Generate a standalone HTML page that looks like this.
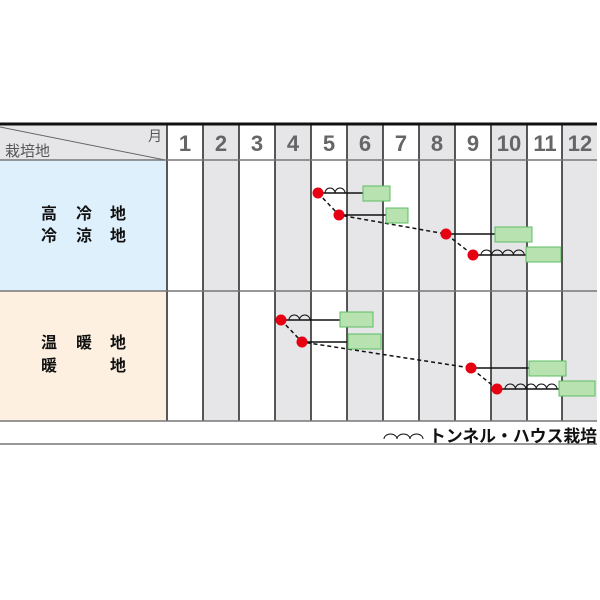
<!DOCTYPE html>
<html><head><meta charset="utf-8"><style>
body{margin:0;background:#fff;}
svg{display:block;font-family:"Liberation Sans","Noto Sans CJK JP",sans-serif;}
</style></head><body>
<svg width="600" height="600" viewBox="0 0 600 600">
<rect x="0" y="124" width="167" height="36" fill="#e6e6e8"/>
<rect x="0" y="160" width="167" height="131" fill="#def0fb"/>
<rect x="0" y="291" width="167" height="130" fill="#fdf0e0"/>
<g fill="#e6e6e8">
<rect x="203" y="124" width="36" height="297"/>
<rect x="275" y="124" width="36" height="297"/>
<rect x="347" y="124" width="36" height="297"/>
<rect x="419" y="124" width="36" height="297"/>
<rect x="491" y="124" width="36" height="297"/>
<rect x="562" y="124" width="35" height="297"/>
</g>
<line x1="0" y1="127" x2="165" y2="160" stroke="#666" stroke-width="1"/>
<g stroke="#222" stroke-width="1.5">
<line x1="167" y1="124" x2="167" y2="421"/>
<line x1="203" y1="124" x2="203" y2="421"/>
<line x1="239" y1="124" x2="239" y2="421"/>
<line x1="275" y1="124" x2="275" y2="421"/>
<line x1="311" y1="124" x2="311" y2="421"/>
<line x1="347" y1="124" x2="347" y2="421"/>
<line x1="383" y1="124" x2="383" y2="421"/>
<line x1="419" y1="124" x2="419" y2="421"/>
<line x1="455" y1="124" x2="455" y2="421"/>
<line x1="491" y1="124" x2="491" y2="421"/>
<line x1="527" y1="124" x2="527" y2="421"/>
<line x1="562" y1="124" x2="562" y2="421"/>
</g>
<g stroke="#777" stroke-width="1.5">
<line x1="0" y1="160" x2="597" y2="160"/>
<line x1="0" y1="291" x2="597" y2="291"/>
<line x1="0" y1="421" x2="597" y2="421"/>
<line x1="0" y1="444" x2="597" y2="444"/>
</g>
<line x1="0" y1="124" x2="597" y2="124" stroke="#111" stroke-width="3"/>
<text x="5" y="156" font-size="15" fill="#555">栽培地</text>
<text x="148" y="141" font-size="14" fill="#555">月</text>
<g font-size="22" font-weight="bold" fill="#666" text-anchor="middle">
<text x="185" y="151">1</text><text x="221" y="151">2</text><text x="257" y="151">3</text>
<text x="293" y="151">4</text><text x="329" y="151">5</text><text x="365" y="151">6</text>
<text x="401" y="151">7</text><text x="437" y="151">8</text><text x="473" y="151">9</text>
<text x="509" y="151">10</text><text x="545" y="151">11</text><text x="580" y="151">12</text>
</g>
<g font-size="16" font-weight="bold" fill="#111" text-anchor="middle">
<text x="49" y="219">高</text><text x="84" y="219">冷</text><text x="118" y="219">地</text>
<text x="49" y="241">冷</text><text x="84" y="241">涼</text><text x="118" y="241">地</text>
<text x="49" y="348">温</text><text x="84" y="348">暖</text><text x="118" y="348">地</text>
<text x="49" y="371">暖</text><text x="118" y="371">地</text>
</g>
<g stroke="#111" stroke-width="1.5" stroke-dasharray="4,3" fill="none">
<polyline points="318,193 339,215 446,234 473,255"/>
<polyline points="281,320 302,342 471,368 497,389"/>
</g>
<g stroke="#111" stroke-width="1.5">
<line x1="318" y1="193" x2="363" y2="193"/>
<line x1="339" y1="215" x2="386" y2="215"/>
<line x1="446" y1="234" x2="495" y2="234"/>
<line x1="473" y1="255" x2="526" y2="255"/>
<line x1="281" y1="320" x2="340" y2="320"/>
<line x1="302" y1="342" x2="348" y2="342"/>
<line x1="471" y1="368" x2="529" y2="368"/>
<line x1="497" y1="389" x2="559" y2="389"/>
</g>
<g stroke="#111" stroke-width="1" fill="none">
<path d="M325,193 a5,5 0 0 1 10,0 a5,5 0 0 1 10,0"/>
<path d="M481,255 a5.4,5 0 0 1 10.8,0 a5.4,5 0 0 1 10.8,0 a5.4,5 0 0 1 10.8,0 a5.4,5 0 0 1 10.8,0"/>
<path d="M289,320 a5.25,5 0 0 1 10.5,0 a5.25,5 0 0 1 10.5,0"/>
<path d="M505,389 a5.2,5 0 0 1 10.4,0 a5.2,5 0 0 1 10.4,0 a5.2,5 0 0 1 10.4,0 a5.2,5 0 0 1 10.4,0 a5.2,5 0 0 1 10.4,0"/>
<path d="M384,439 a6.5,5 0 0 1 13,0 a6.5,5 0 0 1 13,0 a6.5,5 0 0 1 13,0"/>
</g>
<g fill="#b9e2b1" stroke="#5cbf62" stroke-width="1">
<rect x="363" y="186" width="27" height="15"/>
<rect x="386" y="208" width="22" height="15"/>
<rect x="495" y="227" width="37" height="15"/>
<rect x="526" y="247" width="35" height="15"/>
<rect x="340" y="312" width="33" height="15"/>
<rect x="348" y="334" width="33" height="15"/>
<rect x="529" y="361" width="37" height="15"/>
<rect x="559" y="381" width="36" height="15"/>
</g>
<g fill="#e60012">
<circle cx="318" cy="193" r="5.5"/><circle cx="339" cy="215" r="5.5"/>
<circle cx="446" cy="234" r="5.5"/><circle cx="473" cy="255" r="5.5"/>
<circle cx="281" cy="320" r="5.5"/><circle cx="302" cy="342" r="5.5"/>
<circle cx="471" cy="368" r="5.5"/><circle cx="497" cy="389" r="5.5"/>
</g>
<text x="597" y="442" font-size="17" font-weight="bold" fill="#111" text-anchor="end" textLength="168" lengthAdjust="spacingAndGlyphs">トンネル・ハウス栽培</text>
</svg>
</body></html>
